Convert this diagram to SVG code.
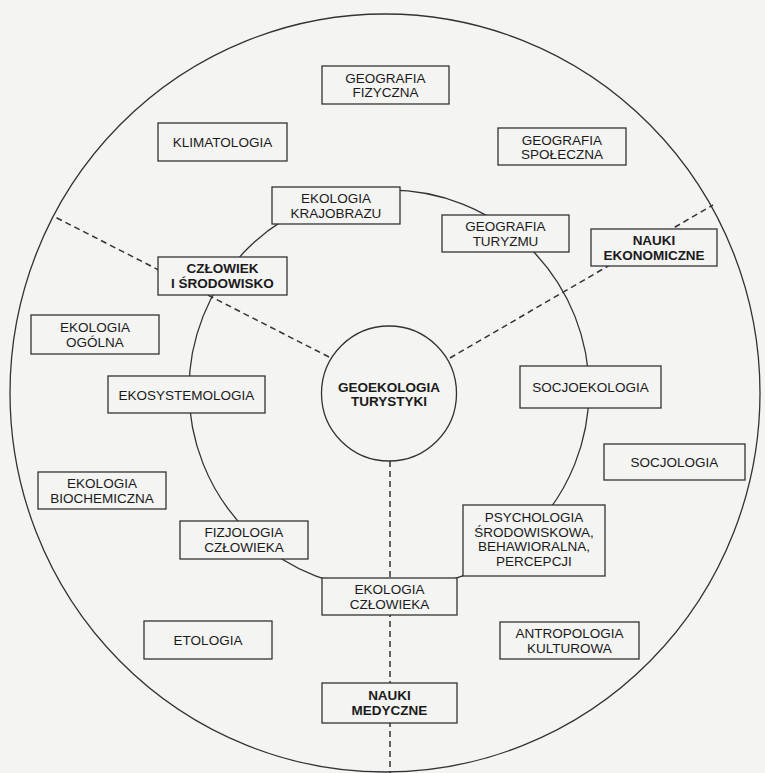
<svg xmlns="http://www.w3.org/2000/svg" width="765" height="773" viewBox="0 0 765 773">
<style>
.bg{fill:#f4f4f3}
.ring{fill:none;stroke:#333;stroke-width:1.3}
.box{fill:#f4f4f3;stroke:#333;stroke-width:1.3}
.dash{fill:none;stroke:#333;stroke-width:1.5;stroke-dasharray:6 4}
text{font-family:"Liberation Sans",Arial,sans-serif;font-size:13.5px;fill:#1a1a1a;text-anchor:middle}
.b{font-weight:bold}
</style>
<rect class="bg" x="0" y="0" width="765" height="773"/>
<g id="rings">
<ellipse class="ring" cx="385" cy="393" rx="375" ry="379"/>
<circle class="ring" cx="389" cy="390" r="200"/>
</g>
<g id="connectors">
<line class="dash" x1="329" y1="357" x2="55" y2="217"/>
<line class="dash" x1="450" y1="358" x2="713" y2="205"/>
<line class="dash" x1="390" y1="461" x2="390" y2="773"/>
</g>
<g id="geoekologia-turystyki">
<circle class="box" cx="389" cy="393.5" r="67.5"/>
<text class="b" x="389" y="392" font-size="14">GEOEKOLOGIA</text>
<text class="b" x="389" y="406" font-size="14">TURYSTYKI</text>
</g>
<g id="geografia-fizyczna">
<rect class="box" x="322" y="66" width="127" height="38"/>
<text x="385.5" y="83">GEOGRAFIA</text>
<text x="385.5" y="97">FIZYCZNA</text>
</g>
<g id="klimatologia">
<rect class="box" x="158" y="123" width="129" height="38"/>
<text x="222.5" y="147">KLIMATOLOGIA</text>
</g>
<g id="geografia-spoleczna">
<rect class="box" x="498" y="128" width="128" height="37"/>
<text x="562" y="145">GEOGRAFIA</text>
<text x="562" y="159">SPOŁECZNA</text>
</g>
<g id="ekologia-krajobrazu">
<rect class="box" x="272" y="187" width="128" height="37"/>
<text x="336" y="203">EKOLOGIA</text>
<text x="336" y="218">KRAJOBRAZU</text>
</g>
<g id="geografia-turyzmu">
<rect class="box" x="442" y="215" width="127" height="37"/>
<text x="505.5" y="231">GEOGRAFIA</text>
<text x="505.5" y="246">TURYZMU</text>
</g>
<g id="nauki-ekonomiczne">
<rect class="box" x="591" y="229" width="126" height="37"/>
<text class="b" x="654" y="245">NAUKI</text>
<text class="b" x="654" y="260">EKONOMICZNE</text>
</g>
<g id="czlowiek-i-srodowisko">
<rect class="box" x="158" y="257" width="129" height="38"/>
<text class="b" x="222.5" y="273">CZŁOWIEK</text>
<text class="b" x="222.5" y="288">I ŚRODOWISKO</text>
</g>
<g id="ekologia-ogolna">
<rect class="box" x="31" y="315" width="128" height="39"/>
<text x="95" y="332">EKOLOGIA</text>
<text x="95" y="347">OGÓLNA</text>
</g>
<g id="ekosystemologia">
<rect class="box" x="108" y="376" width="157" height="37"/>
<text x="186.5" y="399.5">EKOSYSTEMOLOGIA</text>
</g>
<g id="socjoekologia">
<rect class="box" x="520" y="366" width="141" height="42"/>
<text x="590.5" y="392">SOCJOEKOLOGIA</text>
</g>
<g id="socjologia">
<rect class="box" x="604" y="444" width="141" height="36"/>
<text x="674.5" y="467">SOCJOLOGIA</text>
</g>
<g id="ekologia-biochemiczna">
<rect class="box" x="38" y="472" width="128" height="37"/>
<text x="102" y="488">EKOLOGIA</text>
<text x="102" y="503">BIOCHEMICZNA</text>
</g>
<g id="fizjologia-czlowieka">
<rect class="box" x="180" y="521" width="128" height="38"/>
<text x="244" y="537">FIZJOLOGIA</text>
<text x="244" y="552">CZŁOWIEKA</text>
</g>
<g id="psychologia">
<rect class="box" x="463" y="505" width="142" height="71"/>
<text x="534" y="522">PSYCHOLOGIA</text>
<text x="534" y="536.5">ŚRODOWISKOWA,</text>
<text x="534" y="551">BEHAWIORALNA,</text>
<text x="534" y="565.5">PERCEPCJI</text>
</g>
<g id="ekologia-czlowieka">
<rect class="box" x="322" y="578" width="135" height="37"/>
<text x="389.5" y="594">EKOLOGIA</text>
<text x="389.5" y="609">CZŁOWIEKA</text>
</g>
<g id="etologia">
<rect class="box" x="144" y="621" width="128" height="38"/>
<text x="208" y="645">ETOLOGIA</text>
</g>
<g id="antropologia-kulturowa">
<rect class="box" x="500" y="622" width="139" height="37"/>
<text x="569.5" y="638">ANTROPOLOGIA</text>
<text x="569.5" y="653">KULTUROWA</text>
</g>
<g id="nauki-medyczne">
<rect class="box" x="322" y="683" width="135" height="40"/>
<text class="b" x="389.5" y="700">NAUKI</text>
<text class="b" x="389.5" y="715">MEDYCZNE</text>
</g>
</svg>
